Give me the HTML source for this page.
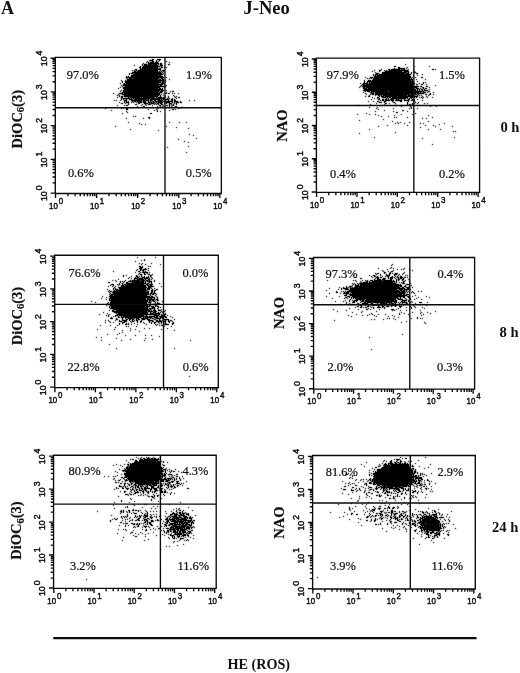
<!DOCTYPE html>
<html lang="en">
<head>
<meta charset="utf-8">
<title>J-Neo</title>
<style>
html,body{margin:0;padding:0;background:#fff}
body{width:520px;height:673px;overflow:hidden}
svg{display:block}
text{fill:#111}
.ax{fill:none;stroke:#0a0a0a;stroke-width:1.35}
.dots{fill:none;stroke:#000;stroke-width:1;shape-rendering:crispEdges}
.tk{font-family:"Liberation Sans",Arial,Helvetica,sans-serif;font-size:9px;stroke:#111;stroke-width:.45px}
.ty{font-size:8.7px}
.q{font-family:"Liberation Serif","Times New Roman",Times,serif;font-size:13.1px;stroke:#111;stroke-width:.22px}
.b{font-family:"Liberation Serif","Times New Roman",Times,serif;font-weight:bold}
.yt{font-family:"Liberation Serif","Times New Roman",Times,serif;font-weight:bold;font-size:14.5px;stroke:#111;stroke-width:.2px}
.sb{font-size:10.5px}
</style>
</head>
<body>
<svg width="520" height="673" viewBox="0 0 520 673">
<defs><filter id="soft" x="0" y="0" width="520" height="673" filterUnits="userSpaceOnUse" color-interpolation-filters="sRGB"><feConvolveMatrix order="3" kernelMatrix=".03 .12 .03 .12 .7 .12 .03 .12 .03" divisor="1" edgeMode="none" preserveAlpha="false"/></filter></defs>
<rect width="520" height="673" fill="#fff"/>
<text class="b" x="1" y="13.8" font-size="18">A</text>
<text class="b" x="243.5" y="14" font-size="18.5">J-Neo</text>

<g>
<path class="dots" filter="url(#soft)" transform="translate(0 .5)" d="M152 59h2M157 59h4M149 60h4M156 60h1M159 60h1M147 61h1M152 61h2M156 61h1M158 61h1M166 61h1M146 62h1M148 62h1M150 62h4M155 62h3M169 62h1M143 63h1M148 63h11M160 63h2M142 64h1M144 64h3M148 64h9M158 64h1M160 64h2M168 64h2M134 65h1M142 65h1M144 65h14M160 65h3M140 66h1M143 66h17M161 66h1M139 67h2M142 67h16M161 67h2M164 67h1M166 67h1M140 68h1M142 68h16M159 68h2M135 69h2M140 69h21M132 70h1M134 70h1M136 70h1M138 70h20M160 70h1M162 70h3M134 71h2M137 71h21M159 71h1M161 71h1M163 71h1M132 72h29M162 72h1M129 73h1M131 73h2M134 73h28M163 73h1M129 74h1M133 74h30M131 75h27M159 75h2M164 75h1M126 76h1M128 76h1M131 76h32M126 77h38M166 77h1M126 78h1M129 78h3M133 78h26M161 78h2M127 79h31M159 79h2M162 79h2M169 79h1M121 80h1M125 80h1M127 80h37M165 80h1M122 81h1M125 81h36M162 81h2M165 81h1M122 82h1M125 82h36M162 82h2M120 83h1M124 83h1M126 83h33M161 83h3M123 84h40M164 84h1M121 85h1M123 85h36M160 85h2M166 85h1M122 86h1M125 86h41M120 87h1M123 87h37M164 87h1M118 88h1M123 88h35M159 88h2M162 88h1M124 89h39M121 90h1M123 90h37M161 90h3M166 90h1M120 91h1M123 91h36M160 91h3M170 91h1M172 91h2M122 92h36M159 92h3M166 92h1M113 93h1M119 93h4M124 93h36M163 93h1M166 93h1M168 93h2M172 93h1M174 93h1M178 93h1M118 94h1M122 94h38M161 94h1M117 95h1M119 95h1M124 95h35M160 95h1M163 95h1M173 95h1M119 96h1M121 96h2M124 96h34M160 96h1M165 96h1M168 96h1M174 96h1M176 96h1M117 97h1M121 97h2M128 97h1M130 97h10M141 97h1M143 97h11M156 97h1M158 97h4M163 97h2M168 97h1M175 97h1M178 97h2M121 98h1M123 98h7M131 98h1M133 98h1M135 98h15M151 98h5M157 98h7M167 98h1M169 98h1M172 98h1M176 98h1M121 99h1M123 99h1M126 99h1M129 99h4M134 99h13M148 99h1M150 99h10M161 99h1M163 99h6M171 99h2M174 99h1M114 100h1M116 100h1M120 100h1M124 100h3M131 100h11M143 100h2M146 100h3M150 100h2M154 100h2M158 100h5M165 100h1M168 100h1M171 100h2M174 100h2M189 100h1M194 100h1M124 101h1M126 101h1M128 101h1M132 101h1M134 101h2M137 101h5M143 101h3M148 101h1M150 101h1M152 101h2M155 101h7M163 101h2M166 101h7M174 101h4M180 101h1M119 102h1M124 102h1M126 102h3M131 102h1M133 102h1M136 102h1M138 102h4M143 102h3M148 102h4M153 102h2M156 102h1M158 102h5M165 102h5M172 102h1M174 102h1M176 102h3M180 102h2M121 103h2M125 103h1M128 103h1M138 103h2M144 103h4M149 103h1M151 103h3M155 103h1M157 103h2M160 103h2M164 103h1M166 103h1M169 103h3M174 103h1M176 103h1M128 104h1M135 104h2M142 104h1M145 104h1M148 104h3M154 104h1M156 104h1M158 104h1M161 104h2M169 104h1M171 104h1M173 104h1M176 104h1M117 105h1M124 105h1M126 105h2M141 105h1M146 105h1M152 105h1M159 105h2M163 105h1M166 105h2M169 105h1M172 105h2M137 106h1M143 106h2M157 106h1M160 106h1M162 106h1M164 106h1M169 106h1M171 106h1M175 106h2M152 107h1M158 107h1M164 107h1M167 107h1M174 107h1M178 107h1M181 107h2M105 108h1M121 108h1M123 108h1M126 108h2M157 108h1M178 108h1M126 109h2M148 109h1M156 109h1M172 109h2M175 109h1M111 110h1M154 110h1M157 110h1M169 110h1M126 111h1M157 111h1M160 111h1M127 112h1M122 113h1M150 113h2M133 116h1M135 116h1M148 117h2M126 118h1M143 118h1M149 118h1M128 122h1M169 122h1M179 122h1M186 122h1M139 123h1M141 124h1M145 124h1M115 126h1M166 126h1M176 127h1M188 128h1M130 129h1M158 130h1M189 134h1M193 135h1M196 138h1M178 139h1M184 141h1M188 142h1M188 146h1M167 147h1M186 152h1"/>
<path class="ax" d="M55.3 57.3H221.35V193.45H55.3ZM165 57.3V193.45M55.3 107.7H221.35M55.5 193.45v4.6M55.3 193.05h-4.6M67.87 193.45v2.8M55.3 182.9h-2.8M75.1 193.45v2.8M55.3 176.97h-2.8M80.24 193.45v2.8M55.3 172.75h-2.8M84.22 193.45v2.8M55.3 169.49h-2.8M87.47 193.45v2.8M55.3 166.82h-2.8M90.22 193.45v2.8M55.3 164.56h-2.8M92.61 193.45v2.8M55.3 162.6h-2.8M94.71 193.45v2.8M55.3 160.88h-2.8M96.59 193.45v4.6M55.3 159.34h-4.6M108.96 193.45v2.8M55.3 149.19h-2.8M116.19 193.45v2.8M55.3 143.25h-2.8M121.32 193.45v2.8M55.3 139.04h-2.8M125.31 193.45v2.8M55.3 135.77h-2.8M128.56 193.45v2.8M55.3 133.1h-2.8M131.31 193.45v2.8M55.3 130.85h-2.8M133.69 193.45v2.8M55.3 128.89h-2.8M135.79 193.45v2.8M55.3 127.17h-2.8M137.68 193.45v4.6M55.3 125.62h-4.6M150.04 193.45v2.8M55.3 115.48h-2.8M157.28 193.45v2.8M55.3 109.54h-2.8M162.41 193.45v2.8M55.3 105.33h-2.8M166.39 193.45v2.8M55.3 102.06h-2.8M169.65 193.45v2.8M55.3 99.39h-2.8M172.4 193.45v2.8M55.3 97.13h-2.8M174.78 193.45v2.8M55.3 95.18h-2.8M176.88 193.45v2.8M55.3 93.46h-2.8M178.76 193.45v4.6M55.3 91.91h-4.6M191.13 193.45v2.8M55.3 81.76h-2.8M198.37 193.45v2.8M55.3 75.83h-2.8M203.5 193.45v2.8M55.3 71.62h-2.8M207.48 193.45v2.8M55.3 68.35h-2.8M210.73 193.45v2.8M55.3 65.68h-2.8M213.49 193.45v2.8M55.3 63.42h-2.8M215.87 193.45v2.8M55.3 61.47h-2.8M217.97 193.45v2.8M55.3 59.74h-2.8M219.85 193.45v4.6M55.3 58.2h-4.6"/>
<text class="tk" transform="translate(49 208.55) scale(.88 1)">10<tspan dx="1" dy="-4.8">0</tspan></text>
<text class="tk ty" transform="translate(46.7 201.05) rotate(-90)">10<tspan dx="1.1" dy="-5.2">0</tspan></text>
<text class="tk" transform="translate(90.09 208.55) scale(.88 1)">10<tspan dx="1" dy="-4.8">1</tspan></text>
<text class="tk ty" transform="translate(46.7 167.34) rotate(-90)">10<tspan dx="1.1" dy="-5.2">1</tspan></text>
<text class="tk" transform="translate(131.18 208.55) scale(.88 1)">10<tspan dx="1" dy="-4.8">2</tspan></text>
<text class="tk ty" transform="translate(46.7 133.62) rotate(-90)">10<tspan dx="1.1" dy="-5.2">2</tspan></text>
<text class="tk" transform="translate(172.26 208.55) scale(.88 1)">10<tspan dx="1" dy="-4.8">3</tspan></text>
<text class="tk ty" transform="translate(46.7 99.91) rotate(-90)">10<tspan dx="1.1" dy="-5.2">3</tspan></text>
<text class="tk" transform="translate(213.35 208.55) scale(.88 1)">10<tspan dx="1" dy="-4.8">4</tspan></text>
<text class="tk ty" transform="translate(46.7 66.2) rotate(-90)">10<tspan dx="1.1" dy="-5.2">4</tspan></text>
<text class="q" transform="translate(66.8 79) scale(.95 1)">97.0%</text>
<text class="q" transform="translate(186 79) scale(.95 1)">1.9%</text>
<text class="q" transform="translate(67.9 177.1) scale(.95 1)">0.6%</text>
<text class="q" transform="translate(185.8 177.1) scale(.95 1)">0.5%</text>
<text class="yt" text-anchor="middle" transform="translate(21.6 119.2) rotate(-90)">DiOC<tspan class="sb" dy="2.6">6</tspan><tspan dy="-2.6">(3)</tspan></text>
</g>
<g>
<path class="dots" filter="url(#soft)" transform="translate(0 .5)" d="M405 64h1M394 66h2M414 66h1M429 66h1M398 67h2M407 67h1M394 68h1M398 68h7M406 68h1M381 69h1M388 69h2M391 69h9M401 69h1M403 69h2M408 69h1M413 69h1M432 69h2M435 69h1M374 70h1M379 70h2M384 70h1M386 70h1M389 70h19M372 71h1M379 71h1M385 71h17M404 71h5M414 71h1M375 72h1M382 72h25M408 72h1M411 72h1M414 72h2M376 73h3M382 73h23M406 73h3M411 73h1M416 73h2M373 74h1M375 74h3M379 74h32M422 74h1M373 75h1M375 75h1M377 75h33M413 75h1M417 75h1M374 76h37M365 77h1M370 77h3M374 77h37M412 77h1M415 77h1M421 77h2M367 78h1M369 78h1M371 78h1M373 78h37M411 78h1M373 79h40M416 79h1M425 79h1M364 80h1M368 80h3M372 80h39M412 80h1M364 81h1M367 81h46M417 81h1M364 82h1M367 82h1M369 82h1M371 82h43M423 82h1M425 82h1M360 83h1M363 83h5M369 83h46M419 83h1M423 83h1M362 84h3M366 84h47M416 84h2M421 84h2M426 84h1M361 85h1M363 85h50M435 85h1M360 86h1M362 86h57M420 86h2M426 86h2M359 87h1M363 87h2M366 87h51M422 87h2M429 87h1M363 88h4M368 88h46M416 88h3M420 88h1M423 88h1M425 88h2M364 89h52M417 89h1M419 89h1M421 89h2M424 89h1M429 89h1M363 90h53M417 90h1M419 90h1M422 90h1M424 90h4M365 91h1M367 91h3M371 91h17M389 91h25M415 91h9M428 91h2M363 92h1M370 92h2M373 92h1M375 92h44M420 92h1M423 92h3M427 92h1M433 92h1M365 93h1M371 93h3M375 93h41M417 93h7M430 93h1M366 94h1M370 94h1M372 94h2M375 94h35M411 94h3M415 94h2M418 94h1M425 94h2M429 94h2M433 94h1M369 95h1M375 95h1M378 95h2M381 95h1M383 95h24M408 95h5M414 95h1M417 95h1M419 95h1M421 95h1M428 95h1M365 96h1M368 96h2M379 96h1M381 96h3M385 96h33M422 96h1M426 96h1M372 97h1M377 97h2M382 97h4M387 97h1M389 97h2M392 97h16M410 97h3M414 97h1M416 97h1M419 97h1M421 97h1M423 97h1M427 97h1M432 97h1M374 98h1M377 98h1M379 98h1M386 98h1M388 98h1M391 98h15M407 98h1M409 98h1M411 98h1M422 98h1M371 99h1M378 99h2M382 99h2M385 99h2M388 99h1M390 99h4M396 99h1M398 99h1M401 99h1M404 99h1M408 99h2M412 99h1M414 99h1M417 99h1M380 100h1M382 100h2M385 100h5M391 100h3M395 100h7M404 100h5M411 100h2M414 100h1M422 100h1M368 101h1M373 101h1M377 101h2M384 101h2M392 101h1M400 101h2M408 101h1M414 101h1M379 102h3M384 102h1M393 102h2M407 102h1M415 102h1M418 102h1M376 103h1M385 103h2M389 103h1M395 103h1M407 103h1M412 103h1M414 103h1M417 103h1M424 103h1M427 103h1M370 104h1M384 104h1M407 104h1M409 104h2M412 104h1M358 105h1M381 105h1M395 105h2M401 105h1M403 105h1M417 105h1M401 106h1M410 106h1M430 106h1M436 106h1M369 107h1M377 107h1M411 107h1M376 108h1M393 108h1M409 108h1M411 108h1M417 108h1M378 109h1M384 110h1M402 110h2M375 111h1M393 111h1M407 111h1M413 111h1M396 112h2M366 113h1M415 113h1M357 114h1M369 114h1M375 114h1M401 114h1M412 114h1M378 115h1M394 115h1M428 115h1M381 116h1M388 116h1M394 117h1M396 117h1M407 117h1M432 117h1M422 118h1M426 118h1M383 119h1M359 120h1M392 121h1M428 121h1M397 122h1M400 122h1M409 122h1M395 123h1M398 123h1M404 123h1M420 123h1M423 123h1M444 123h1M439 124h1M387 125h1M407 125h1M425 125h1M433 125h1M378 126h1M435 126h1M452 126h1M420 127h1M369 129h1M428 129h1M440 129h1M453 131h1M455 131h1M395 132h1M359 133h1M374 137h1M454 137h1M422 138h1M432 144h1"/>
<path class="ax" d="M316.4 58.1H479.6V192.4H316.4ZM413.85 58.1V192.4M316.4 105.5H479.6M316.6 192.4v4.6M316.4 192h-4.6M328.75 192.4v2.8M316.4 181.99h-2.8M335.86 192.4v2.8M316.4 176.14h-2.8M340.91 192.4v2.8M316.4 171.98h-2.8M344.82 192.4v2.8M316.4 168.76h-2.8M348.02 192.4v2.8M316.4 166.13h-2.8M350.72 192.4v2.8M316.4 163.9h-2.8M353.06 192.4v2.8M316.4 161.97h-2.8M355.13 192.4v2.8M316.4 160.27h-2.8M356.97 192.4v4.6M316.4 158.75h-4.6M369.13 192.4v2.8M316.4 148.74h-2.8M376.24 192.4v2.8M316.4 142.89h-2.8M381.28 192.4v2.8M316.4 138.73h-2.8M385.2 192.4v2.8M316.4 135.51h-2.8M388.39 192.4v2.8M316.4 132.88h-2.8M391.1 192.4v2.8M316.4 130.65h-2.8M393.44 192.4v2.8M316.4 128.72h-2.8M395.5 192.4v2.8M316.4 127.02h-2.8M397.35 192.4v4.6M316.4 125.5h-4.6M409.5 192.4v2.8M316.4 115.49h-2.8M416.61 192.4v2.8M316.4 109.64h-2.8M421.66 192.4v2.8M316.4 105.48h-2.8M425.57 192.4v2.8M316.4 102.26h-2.8M428.77 192.4v2.8M316.4 99.63h-2.8M431.47 192.4v2.8M316.4 97.4h-2.8M433.81 192.4v2.8M316.4 95.47h-2.8M435.88 192.4v2.8M316.4 93.77h-2.8M437.73 192.4v4.6M316.4 92.25h-4.6M449.88 192.4v2.8M316.4 82.24h-2.8M456.99 192.4v2.8M316.4 76.39h-2.8M462.03 192.4v2.8M316.4 72.23h-2.8M465.95 192.4v2.8M316.4 69.01h-2.8M469.14 192.4v2.8M316.4 66.38h-2.8M471.85 192.4v2.8M316.4 64.15h-2.8M474.19 192.4v2.8M316.4 62.22h-2.8M476.25 192.4v2.8M316.4 60.52h-2.8M478.1 192.4v4.6M316.4 59h-4.6"/>
<text class="tk" transform="translate(310.1 207.5) scale(.88 1)">10<tspan dx="1" dy="-4.8">0</tspan></text>
<text class="tk ty" transform="translate(307.8 200) rotate(-90)">10<tspan dx="1.1" dy="-5.2">0</tspan></text>
<text class="tk" transform="translate(350.47 207.5) scale(.88 1)">10<tspan dx="1" dy="-4.8">1</tspan></text>
<text class="tk ty" transform="translate(307.8 166.75) rotate(-90)">10<tspan dx="1.1" dy="-5.2">1</tspan></text>
<text class="tk" transform="translate(390.85 207.5) scale(.88 1)">10<tspan dx="1" dy="-4.8">2</tspan></text>
<text class="tk ty" transform="translate(307.8 133.5) rotate(-90)">10<tspan dx="1.1" dy="-5.2">2</tspan></text>
<text class="tk" transform="translate(431.23 207.5) scale(.88 1)">10<tspan dx="1" dy="-4.8">3</tspan></text>
<text class="tk ty" transform="translate(307.8 100.25) rotate(-90)">10<tspan dx="1.1" dy="-5.2">3</tspan></text>
<text class="tk" transform="translate(471.6 207.5) scale(.88 1)">10<tspan dx="1" dy="-4.8">4</tspan></text>
<text class="tk ty" transform="translate(307.8 67) rotate(-90)">10<tspan dx="1.1" dy="-5.2">4</tspan></text>
<text class="q" transform="translate(326.8 79.4) scale(.95 1)">97.9%</text>
<text class="q" transform="translate(439 79.4) scale(.95 1)">1.5%</text>
<text class="q" transform="translate(330 178) scale(.95 1)">0.4%</text>
<text class="q" transform="translate(439 178) scale(.95 1)">0.2%</text>
<text class="yt" text-anchor="middle" transform="translate(286.6 125.6) rotate(-90)">NAO</text>
</g>
<g>
<path class="dots" filter="url(#soft)" transform="translate(0 .5)" d="M137 257h1M155 257h1M144 259h1M141 260h1M144 260h1M135 261h1M139 263h1M142 263h1M151 263h1M141 264h1M145 264h1M160 264h1M139 266h2M142 266h1M148 266h1M150 266h1M140 267h3M139 268h3M145 268h1M148 268h1M137 269h1M140 269h2M143 269h4M136 270h1M140 270h1M142 270h2M148 270h1M113 271h1M138 271h2M143 271h1M145 271h1M135 272h1M140 272h1M142 272h6M149 272h1M139 273h1M144 273h1M147 273h1M138 274h1M140 274h2M144 274h2M148 274h2M152 274h1M123 275h1M126 275h1M136 275h1M141 275h1M150 275h2M123 276h1M131 276h1M136 276h2M139 276h1M141 276h1M144 276h1M148 276h1M150 276h1M129 277h1M135 277h1M137 277h2M142 277h3M146 277h3M151 277h1M128 278h1M131 278h1M134 278h4M139 278h4M144 278h4M149 278h1M152 278h1M118 279h1M134 279h1M137 279h7M145 279h1M148 279h2M151 279h1M112 280h1M115 280h1M125 280h1M130 280h1M132 280h8M141 280h4M146 280h2M149 280h1M154 280h1M116 281h1M120 281h1M122 281h1M124 281h1M128 281h16M145 281h1M147 281h5M154 281h1M108 282h2M120 282h1M123 282h1M126 282h2M132 282h12M145 282h1M149 282h1M151 282h1M119 283h1M122 283h1M126 283h20M147 283h2M151 283h1M159 283h1M111 284h3M117 284h1M119 284h1M122 284h1M124 284h2M127 284h17M146 284h2M149 284h4M110 285h1M113 285h1M118 285h1M121 285h3M125 285h21M147 285h2M150 285h2M108 286h1M112 286h1M115 286h1M121 286h25M148 286h6M161 286h1M114 287h1M118 287h29M148 287h3M113 288h1M115 288h1M119 288h27M147 288h3M151 288h1M154 288h1M107 289h1M113 289h1M115 289h3M119 289h27M147 289h3M152 289h1M156 289h2M109 290h1M114 290h1M116 290h31M151 290h2M154 290h2M108 291h1M110 291h2M113 291h33M147 291h2M151 291h2M154 291h1M109 292h1M112 292h37M151 292h2M154 292h1M110 293h1M113 293h36M150 293h2M153 293h3M109 294h1M111 294h38M150 294h1M152 294h2M156 294h1M110 295h3M114 295h33M150 295h1M155 295h1M102 296h1M109 296h41M151 296h2M156 296h1M106 297h1M110 297h45M157 297h1M101 298h1M109 298h37M147 298h2M150 298h2M154 298h1M157 298h1M106 299h1M109 299h1M111 299h35M147 299h8M156 299h2M109 300h39M149 300h2M152 300h2M155 300h1M157 300h2M91 301h1M111 301h37M149 301h1M151 301h1M153 301h2M162 301h1M95 302h1M108 302h1M110 302h37M148 302h3M155 302h1M157 302h1M107 303h1M110 303h37M150 303h1M155 303h1M157 303h3M107 304h40M149 304h1M152 304h3M157 304h2M106 305h1M110 305h38M149 305h2M155 305h2M109 306h1M111 306h34M146 306h4M151 306h3M155 306h1M157 306h2M109 307h1M111 307h37M152 307h3M158 307h1M160 307h1M110 308h38M149 308h6M157 308h1M113 309h36M150 309h1M154 309h1M158 309h1M161 309h1M109 310h1M112 310h2M116 310h34M151 310h1M153 310h3M158 310h3M165 310h1M112 311h35M148 311h5M154 311h3M161 311h1M163 311h2M103 312h1M114 312h34M150 312h1M153 312h3M158 312h1M160 312h1M162 312h1M107 313h1M116 313h1M118 313h30M150 313h4M155 313h5M165 313h1M99 314h1M109 314h1M117 314h40M158 314h2M161 314h1M163 314h3M106 315h1M108 315h1M115 315h3M119 315h25M146 315h1M154 315h5M161 315h2M164 315h1M167 315h1M108 316h1M113 316h1M115 316h1M118 316h1M121 316h1M123 316h25M149 316h6M156 316h2M159 316h7M170 316h1M111 317h1M118 317h2M121 317h3M125 317h16M143 317h1M145 317h7M154 317h4M160 317h3M165 317h2M172 317h1M110 318h3M116 318h1M122 318h1M125 318h1M128 318h5M134 318h1M136 318h3M141 318h7M150 318h1M152 318h2M156 318h5M162 318h2M116 319h2M122 319h1M126 319h2M129 319h2M132 319h2M136 319h1M138 319h2M142 319h3M147 319h3M154 319h2M159 319h1M163 319h6M174 319h1M105 320h1M108 320h1M115 320h1M119 320h1M122 320h5M129 320h1M132 320h1M134 320h1M136 320h2M141 320h1M148 320h5M156 320h2M159 320h2M162 320h1M165 320h1M168 320h1M170 320h2M109 321h1M119 321h3M124 321h3M130 321h1M132 321h2M137 321h1M140 321h2M149 321h1M152 321h2M156 321h6M163 321h3M168 321h2M172 321h1M105 322h1M110 322h1M113 322h1M122 322h3M131 322h1M137 322h1M140 322h1M143 322h1M149 322h1M151 322h1M154 322h2M158 322h1M161 322h1M163 322h1M165 322h1M169 322h1M173 322h1M119 323h1M122 323h1M126 323h1M128 323h1M134 323h1M144 323h1M151 323h1M154 323h1M159 323h1M161 323h1M165 323h1M172 323h2M119 324h1M125 324h2M128 324h1M131 324h1M137 324h1M146 324h1M155 324h1M157 324h1M164 324h5M172 324h1M100 325h1M110 325h1M117 325h1M156 325h1M159 325h1M161 325h2M126 326h1M128 326h1M136 326h1M164 326h1M171 326h1M115 327h1M130 328h1M144 328h1M149 328h1M167 328h1M97 329h1M114 329h1M135 329h1M161 329h1M122 330h1M130 330h1M174 330h1M139 331h1M122 332h1M119 333h1M107 334h1M117 334h1M125 335h1M135 335h1M145 335h1M151 335h1M159 336h1M96 337h1M101 337h1M116 338h1M145 338h1M130 339h1M152 339h1M101 340h1M121 340h1M144 340h1M190 340h1M109 344h1M116 348h1M174 348h1M189 376h1"/>
<path class="ax" d="M54.7 255.25H218.3V387.55H54.7ZM163.5 255.25V387.55M54.7 304.3H218.3M54.9 387.55v4.6M54.7 387.15h-4.6M67.08 387.55v2.8M54.7 377.29h-2.8M74.21 387.55v2.8M54.7 371.52h-2.8M79.27 387.55v2.8M54.7 367.43h-2.8M83.19 387.55v2.8M54.7 364.26h-2.8M86.4 387.55v2.8M54.7 361.67h-2.8M89.11 387.55v2.8M54.7 359.47h-2.8M91.45 387.55v2.8M54.7 357.57h-2.8M93.52 387.55v2.8M54.7 355.9h-2.8M95.38 387.55v4.6M54.7 354.4h-4.6M107.56 387.55v2.8M54.7 344.54h-2.8M114.69 387.55v2.8M54.7 338.77h-2.8M119.74 387.55v2.8M54.7 334.68h-2.8M123.67 387.55v2.8M54.7 331.51h-2.8M126.87 387.55v2.8M54.7 328.92h-2.8M129.58 387.55v2.8M54.7 326.72h-2.8M131.93 387.55v2.8M54.7 324.82h-2.8M134 387.55v2.8M54.7 323.15h-2.8M135.85 387.55v4.6M54.7 321.65h-4.6M148.03 387.55v2.8M54.7 311.79h-2.8M155.16 387.55v2.8M54.7 306.02h-2.8M160.22 387.55v2.8M54.7 301.93h-2.8M164.14 387.55v2.8M54.7 298.76h-2.8M167.35 387.55v2.8M54.7 296.17h-2.8M170.06 387.55v2.8M54.7 293.97h-2.8M172.4 387.55v2.8M54.7 292.07h-2.8M174.47 387.55v2.8M54.7 290.4h-2.8M176.33 387.55v4.6M54.7 288.9h-4.6M188.51 387.55v2.8M54.7 279.04h-2.8M195.64 387.55v2.8M54.7 273.27h-2.8M200.69 387.55v2.8M54.7 269.18h-2.8M204.62 387.55v2.8M54.7 266.01h-2.8M207.82 387.55v2.8M54.7 263.42h-2.8M210.53 387.55v2.8M54.7 261.22h-2.8M212.88 387.55v2.8M54.7 259.32h-2.8M214.95 387.55v2.8M54.7 257.65h-2.8M216.8 387.55v4.6M54.7 256.15h-4.6"/>
<text class="tk" transform="translate(48.4 402.65) scale(.88 1)">10<tspan dx="1" dy="-4.8">0</tspan></text>
<text class="tk ty" transform="translate(46.1 395.15) rotate(-90)">10<tspan dx="1.1" dy="-5.2">0</tspan></text>
<text class="tk" transform="translate(88.88 402.65) scale(.88 1)">10<tspan dx="1" dy="-4.8">1</tspan></text>
<text class="tk ty" transform="translate(46.1 362.4) rotate(-90)">10<tspan dx="1.1" dy="-5.2">1</tspan></text>
<text class="tk" transform="translate(129.35 402.65) scale(.88 1)">10<tspan dx="1" dy="-4.8">2</tspan></text>
<text class="tk ty" transform="translate(46.1 329.65) rotate(-90)">10<tspan dx="1.1" dy="-5.2">2</tspan></text>
<text class="tk" transform="translate(169.83 402.65) scale(.88 1)">10<tspan dx="1" dy="-4.8">3</tspan></text>
<text class="tk ty" transform="translate(46.1 296.9) rotate(-90)">10<tspan dx="1.1" dy="-5.2">3</tspan></text>
<text class="tk" transform="translate(210.3 402.65) scale(.88 1)">10<tspan dx="1" dy="-4.8">4</tspan></text>
<text class="tk ty" transform="translate(46.1 264.15) rotate(-90)">10<tspan dx="1.1" dy="-5.2">4</tspan></text>
<text class="q" transform="translate(68.5 277) scale(.95 1)">76.6%</text>
<text class="q" transform="translate(182.5 277) scale(.95 1)">0.0%</text>
<text class="q" transform="translate(67.5 370.5) scale(.95 1)">22.8%</text>
<text class="q" transform="translate(182.7 370.5) scale(.95 1)">0.6%</text>
<text class="yt" text-anchor="middle" transform="translate(21.6 316) rotate(-90)">DiOC<tspan class="sb" dy="2.6">6</tspan><tspan dy="-2.6">(3)</tspan></text>
</g>
<g>
<path class="dots" filter="url(#soft)" transform="translate(0 .5)" d="M392 264h1M391 265h1M391 267h1M378 268h1M390 268h1M393 268h1M404 268h1M387 269h1M397 269h1M401 269h1M403 269h1M409 269h1M382 270h1M393 270h1M412 270h1M383 271h1M388 271h1M391 271h2M384 272h2M390 272h1M404 272h1M375 273h1M377 273h2M384 273h1M389 273h2M392 273h1M395 273h3M403 273h1M376 274h1M380 274h1M386 274h1M389 274h1M394 274h3M399 274h1M402 274h1M353 275h1M369 275h1M373 275h2M380 275h1M386 275h4M394 275h1M398 275h1M405 275h1M407 275h1M346 276h1M371 276h1M374 276h2M377 276h1M382 276h1M385 276h1M387 276h2M392 276h1M395 276h1M397 276h1M400 276h2M355 277h1M372 277h1M376 277h3M380 277h2M388 277h1M390 277h3M394 277h1M397 277h2M400 277h3M404 277h2M407 277h1M360 278h2M375 278h1M377 278h2M383 278h3M388 278h1M390 278h3M395 278h1M398 278h1M400 278h2M403 278h1M374 279h1M377 279h4M382 279h3M390 279h2M396 279h1M398 279h2M402 279h2M408 279h1M327 280h1M353 280h1M355 280h1M362 280h1M365 280h1M367 280h1M370 280h3M374 280h8M383 280h9M393 280h1M396 280h1M398 280h1M402 280h1M405 280h1M356 281h1M360 281h1M366 281h2M369 281h1M372 281h23M396 281h1M403 281h2M409 281h1M361 282h1M363 282h5M369 282h24M394 282h1M396 282h1M399 282h1M401 282h1M403 282h1M352 283h1M354 283h1M357 283h1M359 283h37M402 283h3M410 283h1M353 284h1M355 284h1M358 284h1M360 284h39M400 284h1M406 284h3M352 285h1M355 285h4M360 285h42M405 285h1M409 285h1M411 285h1M346 286h1M349 286h3M355 286h44M400 286h2M404 286h2M409 286h1M339 287h1M343 287h1M346 287h1M348 287h1M350 287h1M352 287h1M354 287h46M402 287h2M406 287h3M412 287h1M329 288h1M341 288h1M343 288h5M350 288h55M407 288h3M338 289h1M341 289h1M345 289h4M350 289h47M399 289h4M404 289h5M410 289h1M326 290h1M349 290h50M400 290h2M403 290h2M406 290h1M336 291h1M341 291h1M343 291h1M345 291h1M347 291h53M401 291h4M406 291h1M408 291h1M412 291h1M418 291h1M421 291h1M336 292h2M344 292h1M346 292h3M351 292h55M407 292h1M411 292h1M413 292h1M329 293h1M340 293h1M343 293h6M350 293h1M352 293h46M399 293h6M414 293h1M346 294h1M349 294h53M403 294h2M406 294h3M344 295h3M350 295h57M409 295h1M415 295h1M326 296h1M339 296h1M347 296h3M352 296h53M407 296h2M412 296h1M426 296h1M345 297h2M349 297h1M351 297h1M353 297h45M400 297h1M403 297h2M408 297h2M418 297h1M429 297h1M332 298h1M344 298h1M347 298h1M351 298h1M353 298h1M355 298h41M397 298h2M400 298h1M405 298h1M410 298h1M416 298h1M350 299h1M356 299h9M366 299h30M398 299h5M406 299h1M409 299h2M414 299h1M421 299h1M345 300h1M349 300h1M352 300h1M354 300h4M360 300h1M362 300h2M365 300h29M395 300h2M402 300h5M408 300h1M335 301h1M343 301h1M349 301h1M353 301h2M356 301h1M361 301h3M365 301h32M401 301h2M404 301h1M408 301h1M411 301h1M346 302h1M352 302h3M360 302h1M364 302h2M367 302h5M373 302h12M386 302h6M394 302h3M398 302h1M400 302h1M402 302h5M410 302h1M412 302h1M419 302h3M427 302h1M346 303h1M349 303h1M357 303h2M362 303h6M371 303h2M377 303h1M380 303h7M389 303h1M391 303h3M395 303h1M399 303h1M402 303h1M406 303h2M409 303h1M415 303h1M340 304h1M350 304h3M359 304h1M361 304h3M365 304h1M367 304h2M370 304h3M375 304h2M378 304h1M380 304h1M383 304h3M387 304h6M394 304h2M397 304h1M400 304h2M405 304h1M410 304h1M415 304h1M420 304h1M422 304h1M360 305h2M365 305h1M368 305h1M372 305h3M376 305h1M378 305h2M381 305h2M384 305h1M387 305h1M389 305h1M391 305h6M399 305h1M403 305h1M409 305h1M413 305h1M426 305h1M357 306h2M361 306h1M367 306h2M370 306h1M378 306h1M382 306h2M386 306h3M391 306h1M395 306h1M399 306h3M410 306h1M414 306h1M355 307h1M360 307h2M363 307h1M365 307h2M371 307h1M373 307h1M377 307h4M382 307h1M384 307h1M400 307h1M406 307h1M411 307h1M415 307h1M422 307h1M349 308h1M368 308h1M373 308h1M384 308h1M398 308h1M411 308h1M424 308h1M333 309h1M358 309h1M366 309h2M370 309h1M379 309h1M391 309h3M396 309h1M346 310h1M392 310h1M394 310h1M400 310h1M406 310h1M420 310h1M337 311h1M362 311h1M376 311h1M435 311h1M352 312h1M361 312h1M401 312h1M412 312h1M421 312h1M427 312h1M371 313h1M399 313h1M404 313h1M420 313h1M430 313h1M356 314h1M369 314h1M372 314h1M378 314h1M385 314h1M399 314h1M408 314h1M423 314h1M348 315h1M362 315h1M367 315h1M374 315h1M392 315h1M421 315h1M351 316h1M376 316h1M388 316h1M394 316h1M398 317h1M417 317h1M387 318h1M389 318h1M393 318h1M411 318h1M417 318h1M420 318h1M422 318h1M371 319h1M374 319h1M383 319h1M395 319h1M334 320h1M406 321h1M401 322h1M424 322h1M425 323h1M402 334h1M369 337h1M371 349h1"/>
<path class="ax" d="M313.55 257.5H474.6V389.1H313.55ZM409.8 257.5V389.1M313.55 304.7H474.6M313.75 389.1v4.6M313.55 388.7h-4.6M325.74 389.1v2.8M313.55 378.89h-2.8M332.76 389.1v2.8M313.55 373.16h-2.8M337.73 389.1v2.8M313.55 369.09h-2.8M341.6 389.1v2.8M313.55 365.93h-2.8M344.75 389.1v2.8M313.55 363.35h-2.8M347.42 389.1v2.8M313.55 361.17h-2.8M349.73 389.1v2.8M313.55 359.28h-2.8M351.76 389.1v2.8M313.55 357.62h-2.8M353.59 389.1v4.6M313.55 356.12h-4.6M365.58 389.1v2.8M313.55 346.32h-2.8M372.59 389.1v2.8M313.55 340.58h-2.8M377.57 389.1v2.8M313.55 336.51h-2.8M381.43 389.1v2.8M313.55 333.36h-2.8M384.59 389.1v2.8M313.55 330.78h-2.8M387.25 389.1v2.8M313.55 328.6h-2.8M389.56 389.1v2.8M313.55 326.71h-2.8M391.6 389.1v2.8M313.55 325.04h-2.8M393.43 389.1v4.6M313.55 323.55h-4.6M405.42 389.1v2.8M313.55 313.74h-2.8M412.43 389.1v2.8M313.55 308.01h-2.8M417.41 389.1v2.8M313.55 303.94h-2.8M421.27 389.1v2.8M313.55 300.78h-2.8M424.42 389.1v2.8M313.55 298.2h-2.8M427.09 389.1v2.8M313.55 296.02h-2.8M429.4 389.1v2.8M313.55 294.13h-2.8M431.44 389.1v2.8M313.55 292.47h-2.8M433.26 389.1v4.6M313.55 290.98h-4.6M445.25 389.1v2.8M313.55 281.17h-2.8M452.27 389.1v2.8M313.55 275.43h-2.8M457.25 389.1v2.8M313.55 271.36h-2.8M461.11 389.1v2.8M313.55 268.21h-2.8M464.26 389.1v2.8M313.55 265.63h-2.8M466.93 389.1v2.8M313.55 263.45h-2.8M469.24 389.1v2.8M313.55 261.56h-2.8M471.28 389.1v2.8M313.55 259.89h-2.8M473.1 389.1v4.6M313.55 258.4h-4.6"/>
<text class="tk" transform="translate(307.25 404.2) scale(.88 1)">10<tspan dx="1" dy="-4.8">0</tspan></text>
<text class="tk ty" transform="translate(304.95 396.7) rotate(-90)">10<tspan dx="1.1" dy="-5.2">0</tspan></text>
<text class="tk" transform="translate(347.09 404.2) scale(.88 1)">10<tspan dx="1" dy="-4.8">1</tspan></text>
<text class="tk ty" transform="translate(304.95 364.12) rotate(-90)">10<tspan dx="1.1" dy="-5.2">1</tspan></text>
<text class="tk" transform="translate(386.93 404.2) scale(.88 1)">10<tspan dx="1" dy="-4.8">2</tspan></text>
<text class="tk ty" transform="translate(304.95 331.55) rotate(-90)">10<tspan dx="1.1" dy="-5.2">2</tspan></text>
<text class="tk" transform="translate(426.76 404.2) scale(.88 1)">10<tspan dx="1" dy="-4.8">3</tspan></text>
<text class="tk ty" transform="translate(304.95 298.98) rotate(-90)">10<tspan dx="1.1" dy="-5.2">3</tspan></text>
<text class="tk" transform="translate(466.6 404.2) scale(.88 1)">10<tspan dx="1" dy="-4.8">4</tspan></text>
<text class="tk ty" transform="translate(304.95 266.4) rotate(-90)">10<tspan dx="1.1" dy="-5.2">4</tspan></text>
<text class="q" transform="translate(325.5 278) scale(.95 1)">97.3%</text>
<text class="q" transform="translate(437.5 278) scale(.95 1)">0.4%</text>
<text class="q" transform="translate(327.5 371.2) scale(.95 1)">2.0%</text>
<text class="q" transform="translate(437 371.2) scale(.95 1)">0.3%</text>
<text class="yt" text-anchor="middle" transform="translate(283.6 313) rotate(-90)">NAO</text>
</g>
<g>
<path class="dots" filter="url(#soft)" transform="translate(0 .5)" d="M136 457h1M141 457h1M146 457h1M148 457h1M153 457h1M160 457h1M138 458h1M140 458h1M143 458h2M147 458h3M151 458h2M154 458h2M158 458h1M130 459h1M132 459h2M140 459h3M144 459h15M160 459h1M126 460h1M135 460h2M139 460h19M135 461h3M139 461h17M157 461h3M161 461h1M163 461h1M128 462h1M134 462h26M163 462h1M167 462h1M130 463h1M132 463h29M116 464h1M124 464h1M127 464h2M130 464h30M162 464h1M113 465h1M120 465h1M128 465h1M130 465h30M163 465h2M122 466h1M127 466h1M129 466h32M126 467h36M163 467h1M124 468h1M126 468h37M166 468h1M119 469h1M125 469h1M127 469h35M163 469h3M169 469h1M175 469h1M122 470h41M165 470h1M167 470h1M171 470h1M115 471h1M123 471h1M125 471h39M165 471h1M169 471h1M171 471h1M173 471h2M178 471h1M117 472h1M126 472h36M165 472h1M170 472h1M181 472h1M124 473h39M164 473h1M166 473h1M121 474h1M124 474h39M164 474h2M168 474h4M176 474h2M117 475h1M125 475h36M162 475h4M172 475h1M174 475h1M104 476h1M108 476h1M113 476h1M115 476h1M125 476h38M164 476h1M169 476h1M171 476h1M176 476h2M182 476h1M121 477h2M124 477h3M128 477h33M162 477h1M165 477h1M172 477h2M179 477h1M114 478h1M123 478h1M127 478h35M164 478h2M167 478h5M174 478h1M176 478h1M179 478h1M183 478h1M113 479h1M120 479h1M124 479h1M126 479h1M128 479h39M168 479h1M170 479h1M172 479h1M174 479h1M176 479h1M180 479h1M115 480h1M118 480h2M125 480h3M129 480h30M160 480h4M166 480h4M174 480h1M180 480h1M122 481h1M125 481h1M129 481h4M134 481h20M155 481h4M160 481h4M165 481h3M171 481h3M176 481h3M186 481h1M115 482h2M118 482h1M130 482h1M133 482h1M135 482h22M158 482h1M168 482h3M172 482h1M177 482h1M120 483h2M124 483h2M127 483h1M131 483h2M135 483h24M161 483h1M163 483h1M165 483h1M167 483h1M169 483h1M176 483h4M181 483h1M183 483h1M124 484h1M128 484h2M131 484h1M134 484h2M138 484h7M146 484h5M152 484h3M156 484h1M160 484h2M165 484h2M168 484h1M170 484h1M173 484h1M175 484h1M180 484h1M119 485h1M124 485h1M129 485h1M133 485h1M135 485h2M138 485h1M140 485h1M142 485h1M145 485h1M147 485h1M149 485h3M153 485h4M158 485h1M161 485h2M164 485h1M167 485h2M171 485h1M173 485h1M177 485h2M182 485h1M119 486h3M123 486h1M125 486h1M127 486h1M131 486h2M135 486h1M137 486h2M140 486h2M143 486h1M146 486h2M151 486h3M158 486h1M160 486h2M168 486h1M170 486h3M174 486h1M177 486h1M116 487h1M122 487h1M125 487h1M130 487h1M133 487h1M135 487h1M137 487h2M141 487h1M144 487h2M147 487h1M151 487h3M157 487h2M166 487h1M168 487h1M171 487h1M174 487h2M116 488h1M118 488h1M122 488h2M126 488h3M132 488h1M135 488h1M139 488h1M141 488h2M144 488h6M151 488h1M153 488h4M159 488h1M161 488h2M167 488h1M173 488h1M187 488h2M114 489h1M127 489h1M130 489h1M132 489h2M136 489h2M139 489h1M142 489h1M144 489h2M150 489h2M154 489h3M161 489h1M164 489h1M169 489h1M171 489h1M131 490h1M134 490h1M136 490h1M139 490h3M143 490h1M145 490h2M150 490h1M155 490h3M159 490h1M161 490h1M165 490h1M120 491h1M124 491h2M130 491h1M134 491h1M137 491h1M142 491h2M146 491h1M148 491h1M150 491h1M152 491h1M154 491h2M161 491h2M164 491h2M124 492h1M131 492h1M135 492h4M140 492h1M143 492h1M147 492h2M152 492h1M154 492h1M161 492h2M164 492h2M167 492h1M171 492h1M129 493h1M134 493h2M143 493h1M148 493h1M156 493h1M170 493h1M174 493h1M125 494h3M130 494h2M133 494h1M141 494h1M145 494h1M153 494h1M160 494h1M163 494h1M170 494h1M128 495h1M138 495h1M140 495h1M143 495h1M147 495h1M154 495h1M157 495h2M164 495h1M118 496h1M148 496h2M151 496h2M154 496h1M157 496h1M152 497h2M130 498h1M154 498h1M161 498h1M131 499h1M151 499h1M121 500h1M151 500h1M121 501h1M134 501h1M158 501h1M114 502h1M129 502h1M180 502h1M133 504h1M144 504h1M146 504h1M169 504h1M113 505h1M134 505h1M127 506h1M153 506h1M157 506h1M125 507h1M127 507h1M142 507h1M188 507h1M114 508h1M151 508h1M155 508h1M176 508h1M179 508h1M133 509h1M173 509h1M178 509h1M121 510h1M123 510h1M128 510h2M132 510h2M135 510h2M138 510h1M140 510h1M145 510h1M176 510h1M179 510h2M183 510h1M192 510h1M97 511h1M120 511h2M123 511h1M126 511h1M129 511h1M138 511h1M146 511h1M150 511h1M153 511h1M156 511h1M165 511h1M171 511h1M176 511h1M182 511h1M121 512h1M123 512h1M127 512h1M129 512h1M133 512h1M141 512h1M147 512h1M173 512h1M177 512h1M179 512h2M182 512h1M185 512h1M120 513h1M131 513h1M134 513h3M142 513h1M145 513h1M147 513h1M166 513h1M172 513h3M176 513h1M179 513h2M182 513h3M186 513h1M188 513h1M127 514h1M144 514h1M147 514h1M150 514h1M153 514h1M156 514h1M170 514h3M174 514h4M180 514h2M183 514h1M186 514h3M111 515h1M127 515h1M135 515h1M139 515h1M141 515h1M144 515h4M151 515h1M160 515h1M170 515h1M174 515h3M178 515h7M188 515h1M195 515h1M121 516h1M123 516h1M125 516h1M127 516h1M135 516h1M137 516h1M139 516h2M143 516h1M145 516h3M150 516h1M154 516h1M156 516h1M159 516h1M165 516h1M168 516h2M171 516h6M179 516h1M183 516h4M190 516h1M121 517h1M124 517h1M126 517h1M130 517h1M134 517h1M136 517h1M140 517h1M144 517h2M150 517h3M156 517h1M167 517h1M170 517h1M173 517h9M184 517h4M189 517h2M192 517h1M114 518h1M117 518h1M122 518h1M129 518h1M138 518h2M143 518h1M147 518h2M151 518h1M166 518h2M169 518h1M172 518h7M181 518h5M187 518h1M189 518h3M112 519h1M115 519h2M125 519h1M127 519h1M132 519h1M137 519h2M144 519h3M149 519h1M157 519h1M161 519h1M165 519h3M169 519h6M176 519h11M191 519h1M110 520h1M122 520h1M130 520h1M132 520h1M135 520h2M138 520h2M142 520h1M144 520h1M146 520h2M151 520h2M155 520h1M157 520h2M160 520h1M167 520h2M170 520h1M172 520h4M177 520h2M180 520h2M183 520h9M193 520h2M110 521h1M125 521h1M129 521h1M145 521h1M147 521h1M151 521h3M163 521h1M166 521h3M171 521h13M185 521h1M188 521h3M192 521h1M120 522h2M144 522h2M147 522h1M149 522h2M165 522h1M167 522h1M169 522h1M174 522h4M179 522h4M184 522h6M191 522h3M123 523h1M125 523h3M131 523h2M134 523h1M137 523h1M139 523h1M141 523h1M143 523h1M147 523h1M149 523h2M162 523h1M166 523h2M170 523h6M177 523h1M179 523h1M181 523h4M186 523h2M191 523h1M193 523h1M133 524h2M136 524h2M139 524h1M145 524h1M147 524h1M150 524h2M164 524h2M169 524h4M174 524h7M182 524h2M185 524h5M191 524h1M119 525h1M125 525h1M128 525h1M138 525h1M143 525h1M151 525h2M165 525h2M168 525h2M172 525h5M179 525h1M181 525h6M189 525h3M125 526h1M134 526h1M137 526h2M144 526h3M148 526h1M157 526h1M161 526h1M164 526h1M166 526h1M171 526h1M173 526h13M187 526h2M190 526h1M193 526h1M133 527h1M135 527h1M142 527h1M145 527h1M149 527h1M170 527h4M175 527h10M186 527h4M191 527h2M194 527h1M153 528h1M158 528h2M163 528h1M166 528h3M170 528h2M173 528h10M184 528h1M186 528h4M191 528h1M118 529h1M123 529h1M125 529h1M142 529h1M146 529h1M150 529h1M155 529h1M169 529h6M176 529h3M180 529h7M189 529h1M126 530h1M133 530h1M145 530h2M161 530h1M163 530h1M167 530h2M170 530h1M173 530h3M177 530h2M180 530h5M187 530h1M191 530h2M164 531h1M167 531h2M170 531h2M173 531h3M177 531h1M179 531h2M182 531h4M188 531h3M131 532h2M140 532h1M153 532h1M164 532h1M166 532h1M168 532h1M173 532h5M179 532h2M182 532h4M187 532h1M189 532h2M117 533h1M130 533h1M135 533h1M142 533h1M148 533h1M166 533h1M171 533h1M175 533h1M177 533h5M183 533h1M186 533h1M188 533h2M191 533h1M138 534h1M145 534h1M162 534h1M168 534h1M170 534h1M174 534h8M183 534h3M187 534h1M133 535h1M156 535h1M164 535h1M170 535h4M177 535h1M179 535h1M182 535h4M187 535h2M193 535h1M135 536h2M145 536h1M172 536h1M174 536h1M177 536h3M181 536h1M183 536h1M188 536h1M123 537h1M168 537h1M172 537h1M174 537h1M178 537h1M185 537h1M190 537h1M169 538h1M173 538h2M176 538h1M180 538h4M193 538h1M148 539h1M180 539h1M187 539h1M122 540h1M144 540h1M179 540h1M184 540h1M186 540h1M188 540h1M174 541h1M177 541h1M173 542h1M183 544h1M177 545h1M166 546h1M169 546h1M160 549h1M86 579h1"/>
<path class="ax" d="M53.55 455.25H216.2V588.4H53.55ZM160.4 455.25V588.4M53.55 504.1H216.2M53.75 588.4v4.6M53.55 588h-4.6M65.86 588.4v2.8M53.55 578.08h-2.8M72.95 588.4v2.8M53.55 572.27h-2.8M77.98 588.4v2.8M53.55 568.15h-2.8M81.87 588.4v2.8M53.55 564.96h-2.8M85.06 588.4v2.8M53.55 562.35h-2.8M87.75 588.4v2.8M53.55 560.14h-2.8M90.09 588.4v2.8M53.55 558.23h-2.8M92.15 588.4v2.8M53.55 556.55h-2.8M93.99 588.4v4.6M53.55 555.04h-4.6M106.1 588.4v2.8M53.55 545.11h-2.8M113.19 588.4v2.8M53.55 539.31h-2.8M118.21 588.4v2.8M53.55 535.19h-2.8M122.11 588.4v2.8M53.55 532h-2.8M125.3 588.4v2.8M53.55 529.39h-2.8M127.99 588.4v2.8M53.55 527.18h-2.8M130.33 588.4v2.8M53.55 525.27h-2.8M132.38 588.4v2.8M53.55 523.58h-2.8M134.22 588.4v4.6M53.55 522.08h-4.6M146.34 588.4v2.8M53.55 512.15h-2.8M153.42 588.4v2.8M53.55 506.35h-2.8M158.45 588.4v2.8M53.55 502.23h-2.8M162.35 588.4v2.8M53.55 499.04h-2.8M165.54 588.4v2.8M53.55 496.43h-2.8M168.23 588.4v2.8M53.55 494.22h-2.8M170.56 588.4v2.8M53.55 492.31h-2.8M172.62 588.4v2.8M53.55 490.62h-2.8M174.46 588.4v4.6M53.55 489.11h-4.6M186.58 588.4v2.8M53.55 479.19h-2.8M193.66 588.4v2.8M53.55 473.39h-2.8M198.69 588.4v2.8M53.55 469.27h-2.8M202.59 588.4v2.8M53.55 466.07h-2.8M205.77 588.4v2.8M53.55 463.46h-2.8M208.47 588.4v2.8M53.55 461.26h-2.8M210.8 588.4v2.8M53.55 459.34h-2.8M212.86 588.4v2.8M53.55 457.66h-2.8M214.7 588.4v4.6M53.55 456.15h-4.6"/>
<text class="tk" transform="translate(47.25 603.5) scale(.88 1)">10<tspan dx="1" dy="-4.8">0</tspan></text>
<text class="tk ty" transform="translate(44.95 596) rotate(-90)">10<tspan dx="1.1" dy="-5.2">0</tspan></text>
<text class="tk" transform="translate(87.49 603.5) scale(.88 1)">10<tspan dx="1" dy="-4.8">1</tspan></text>
<text class="tk ty" transform="translate(44.95 563.04) rotate(-90)">10<tspan dx="1.1" dy="-5.2">1</tspan></text>
<text class="tk" transform="translate(127.72 603.5) scale(.88 1)">10<tspan dx="1" dy="-4.8">2</tspan></text>
<text class="tk ty" transform="translate(44.95 530.08) rotate(-90)">10<tspan dx="1.1" dy="-5.2">2</tspan></text>
<text class="tk" transform="translate(167.96 603.5) scale(.88 1)">10<tspan dx="1" dy="-4.8">3</tspan></text>
<text class="tk ty" transform="translate(44.95 497.11) rotate(-90)">10<tspan dx="1.1" dy="-5.2">3</tspan></text>
<text class="tk" transform="translate(208.2 603.5) scale(.88 1)">10<tspan dx="1" dy="-4.8">4</tspan></text>
<text class="tk ty" transform="translate(44.95 464.15) rotate(-90)">10<tspan dx="1.1" dy="-5.2">4</tspan></text>
<text class="q" transform="translate(68.5 474.5) scale(.95 1)">80.9%</text>
<text class="q" transform="translate(182.5 474.5) scale(.95 1)">4.3%</text>
<text class="q" transform="translate(70 569.5) scale(.95 1)">3.2%</text>
<text class="q" transform="translate(177.5 569.5) scale(.95 1)">11.6%</text>
<text class="yt" text-anchor="middle" transform="translate(21.4 530.5) rotate(-90)">DiOC<tspan class="sb" dy="2.6">6</tspan><tspan dy="-2.6">(3)</tspan></text>
</g>
<g>
<path class="dots" filter="url(#soft)" transform="translate(0 .5)" d="M400 457h1M425 457h1M402 458h1M405 458h2M394 459h1M396 459h4M384 460h1M391 460h1M397 460h1M400 460h1M418 460h1M383 461h1M386 461h1M390 461h2M396 461h1M400 461h2M404 461h1M408 461h1M411 461h1M366 462h1M390 462h2M394 462h2M397 462h2M400 462h1M405 462h1M382 463h1M385 463h1M388 463h5M395 463h2M399 463h2M402 463h1M404 463h2M407 463h1M415 463h1M361 464h1M379 464h1M384 464h3M388 464h1M390 464h19M410 464h1M430 464h1M380 465h1M383 465h7M391 465h18M410 465h1M412 465h1M364 466h1M378 466h2M384 466h25M410 466h1M412 466h2M419 466h1M375 467h2M382 467h29M428 467h1M372 468h1M381 468h30M412 468h2M424 468h1M374 469h1M377 469h35M413 469h1M415 469h1M369 470h1M377 470h36M415 470h1M373 471h1M375 471h1M377 471h36M414 471h2M369 472h1M375 472h38M414 472h2M417 472h1M348 473h1M371 473h1M373 473h42M417 473h1M420 473h1M422 473h1M431 473h1M345 474h1M347 474h1M369 474h1M373 474h41M420 474h1M422 474h1M424 474h1M352 475h1M369 475h1M371 475h1M374 475h38M413 475h1M415 475h2M418 475h1M420 475h1M426 475h1M352 476h1M373 476h44M418 476h1M423 476h1M350 477h1M374 477h40M415 477h3M419 477h3M349 478h1M352 478h1M370 478h1M373 478h39M413 478h1M415 478h7M356 479h1M361 479h1M363 479h1M366 479h1M369 479h2M372 479h42M415 479h1M418 479h1M421 479h2M427 479h1M355 480h1M360 480h1M368 480h1M370 480h1M372 480h43M416 480h1M418 480h3M424 480h1M427 480h2M342 481h1M363 481h1M367 481h1M371 481h2M374 481h38M413 481h4M419 481h1M421 481h1M429 481h1M431 481h1M349 482h1M358 482h1M369 482h2M373 482h36M410 482h4M415 482h1M418 482h2M424 482h1M345 483h1M348 483h1M352 483h1M354 483h1M365 483h2M369 483h3M373 483h2M376 483h34M411 483h1M414 483h2M417 483h3M421 483h1M429 483h1M435 483h1M350 484h1M364 484h1M366 484h1M373 484h3M377 484h31M409 484h4M416 484h1M420 484h1M422 484h1M424 484h2M429 484h1M348 485h1M355 485h2M366 485h1M377 485h3M382 485h27M410 485h1M413 485h1M417 485h1M419 485h3M344 486h2M361 486h1M368 486h1M376 486h1M380 486h2M383 486h3M387 486h14M402 486h5M408 486h2M414 486h1M416 486h1M423 486h2M426 486h1M431 486h1M352 487h2M363 487h1M369 487h3M376 487h1M378 487h2M381 487h12M395 487h3M399 487h4M410 487h1M417 487h1M421 487h1M341 488h1M356 488h1M359 488h1M365 488h1M368 488h1M375 488h3M381 488h1M383 488h2M386 488h1M389 488h10M401 488h3M405 488h1M408 488h1M414 488h1M420 488h1M425 488h2M428 488h1M343 489h3M351 489h1M355 489h1M359 489h1M370 489h2M373 489h1M376 489h1M380 489h1M383 489h1M385 489h1M387 489h1M389 489h1M394 489h1M396 489h4M403 489h1M405 489h1M408 489h1M410 489h1M421 489h1M426 489h1M431 489h1M351 490h3M357 490h1M360 490h1M365 490h1M369 490h1M373 490h1M383 490h2M386 490h1M393 490h1M395 490h1M398 490h2M403 490h1M406 490h3M412 490h1M415 490h1M356 491h1M364 491h1M375 491h1M377 491h1M383 491h1M386 491h2M389 491h1M394 491h1M396 491h1M399 491h2M402 491h1M413 491h3M418 491h1M421 491h1M430 491h1M432 491h1M352 492h1M364 492h1M368 492h2M377 492h2M382 492h1M385 492h1M387 492h3M391 492h1M397 492h2M405 492h1M412 492h2M417 492h1M422 492h1M342 493h1M366 493h1M371 493h2M384 493h2M391 493h1M393 493h1M395 493h1M401 493h2M405 493h1M417 493h1M348 494h1M366 494h1M379 494h1M387 494h1M397 494h1M401 494h1M406 494h1M426 494h1M367 495h1M376 495h2M379 495h1M381 495h1M387 495h2M390 495h1M397 495h1M411 495h1M413 495h1M359 496h1M369 496h1M379 496h2M393 496h1M395 496h1M397 496h1M399 496h1M412 496h1M415 496h1M366 497h1M385 497h1M393 497h1M404 497h1M413 497h1M416 497h1M425 497h1M351 498h1M359 498h1M371 498h1M389 498h2M393 498h2M404 498h1M409 498h1M411 498h1M401 499h1M358 500h1M379 500h1M382 500h1M395 500h1M418 500h1M357 501h1M386 501h1M368 502h1M404 502h1M351 503h1M381 503h1M384 503h1M408 503h1M419 503h1M338 504h1M362 504h1M366 504h1M389 504h1M401 504h1M407 504h1M385 505h1M355 506h1M365 506h1M373 506h1M379 506h2M388 506h1M397 506h1M409 506h1M349 507h1M374 507h1M388 507h2M393 507h2M398 507h1M349 508h1M352 508h1M366 508h1M375 508h1M378 508h3M384 508h2M387 508h1M389 508h1M392 508h2M397 508h1M428 508h1M349 509h1M369 509h1M372 509h3M379 509h1M415 509h1M438 509h1M350 510h1M363 510h1M371 510h1M373 510h2M383 510h1M387 510h1M391 510h2M409 510h1M432 510h1M434 510h1M354 511h1M367 511h1M370 511h1M372 511h1M380 511h3M391 511h2M394 511h2M399 511h1M402 511h2M406 511h1M418 511h1M420 511h1M422 511h1M426 511h1M434 511h2M451 511h1M330 512h1M344 512h1M365 512h1M373 512h1M381 512h1M384 512h1M386 512h1M388 512h2M391 512h2M399 512h1M404 512h2M422 512h2M425 512h1M427 512h1M432 512h1M435 512h1M438 512h1M351 513h2M369 513h1M376 513h2M379 513h2M385 513h1M391 513h1M393 513h1M395 513h3M401 513h1M403 513h1M412 513h1M423 513h1M427 513h1M429 513h1M436 513h1M439 513h1M347 514h1M351 514h1M356 514h2M364 514h1M370 514h1M380 514h3M387 514h1M391 514h1M394 514h2M400 514h2M405 514h1M412 514h1M414 514h1M416 514h1M419 514h2M424 514h2M429 514h1M432 514h5M439 514h1M442 514h1M447 514h1M369 515h1M372 515h1M375 515h2M378 515h1M380 515h1M382 515h1M385 515h2M388 515h1M391 515h1M394 515h1M399 515h1M401 515h2M405 515h1M407 515h1M412 515h1M417 515h1M421 515h1M423 515h1M426 515h1M429 515h1M431 515h1M433 515h2M436 515h1M441 515h1M343 516h1M367 516h2M371 516h1M373 516h1M375 516h1M381 516h1M387 516h1M390 516h1M393 516h1M395 516h1M399 516h2M403 516h2M407 516h1M409 516h1M413 516h1M417 516h1M422 516h1M424 516h8M434 516h3M446 516h1M339 517h1M366 517h2M370 517h1M380 517h1M383 517h1M385 517h1M390 517h2M394 517h2M397 517h1M399 517h1M403 517h1M406 517h1M411 517h1M417 517h2M420 517h1M422 517h3M426 517h8M435 517h3M439 517h5M449 517h1M358 518h1M375 518h1M379 518h1M381 518h2M387 518h1M391 518h1M393 518h1M395 518h3M401 518h1M405 518h1M407 518h1M410 518h1M416 518h1M420 518h3M424 518h12M437 518h1M349 519h1M360 519h1M371 519h1M375 519h1M377 519h1M381 519h1M390 519h1M395 519h1M397 519h1M399 519h1M401 519h2M407 519h1M411 519h1M419 519h2M422 519h15M440 519h1M444 519h1M448 519h1M366 520h2M371 520h1M374 520h2M386 520h1M389 520h1M397 520h2M405 520h1M407 520h2M410 520h1M412 520h1M414 520h1M417 520h2M420 520h1M422 520h17M445 520h1M449 520h1M370 521h1M374 521h1M382 521h1M390 521h2M399 521h2M412 521h1M414 521h2M420 521h20M442 521h1M449 521h1M358 522h1M390 522h1M394 522h3M403 522h1M409 522h1M415 522h1M418 522h22M380 523h1M387 523h1M391 523h1M402 523h1M405 523h1M409 523h1M412 523h3M417 523h1M419 523h1M421 523h4M426 523h13M440 523h1M443 523h1M446 523h1M448 523h1M375 524h2M378 524h1M380 524h1M387 524h1M402 524h1M406 524h1M410 524h1M412 524h2M415 524h1M420 524h21M442 524h1M444 524h1M453 524h1M361 525h1M393 525h1M397 525h1M408 525h1M410 525h1M414 525h2M417 525h1M421 525h18M440 525h1M442 525h1M399 526h1M404 526h1M415 526h1M419 526h2M422 526h1M424 526h17M442 526h1M444 526h1M391 527h1M395 527h1M403 527h1M411 527h1M418 527h1M420 527h21M443 527h1M445 527h1M382 528h1M393 528h1M405 528h1M420 528h2M423 528h19M443 528h1M455 528h1M399 529h1M406 529h1M410 529h1M416 529h1M421 529h1M423 529h17M414 530h2M421 530h2M424 530h1M426 530h2M429 530h11M441 530h1M443 530h1M447 530h1M449 530h1M386 531h1M406 531h1M415 531h1M419 531h1M421 531h1M424 531h1M426 531h3M432 531h2M438 531h1M440 531h1M446 531h1M422 532h1M425 532h1M427 532h2M430 532h4M436 532h2M439 532h1M448 532h1M417 533h1M424 533h1M426 533h2M430 533h2M434 533h3M438 533h2M443 533h1M421 534h1M426 534h3M436 534h4M447 534h2M428 535h1M430 535h1M434 535h3M439 535h1M448 535h1M421 536h1M428 536h1M432 536h1M434 536h1M437 536h1M426 537h1M428 537h2M434 537h1M437 537h1M413 538h1M425 538h1M432 538h2M444 538h1M431 540h1M433 542h1M419 544h1M317 577h1"/>
<path class="ax" d="M312.6 455.5H475.3V589H312.6ZM410.3 455.5V589M312.6 503H475.3M312.8 589v4.6M312.6 588.6h-4.6M324.92 589v2.8M312.6 578.65h-2.8M332 589v2.8M312.6 572.83h-2.8M337.03 589v2.8M312.6 568.7h-2.8M340.93 589v2.8M312.6 565.5h-2.8M344.12 589v2.8M312.6 562.88h-2.8M346.82 589v2.8M312.6 560.67h-2.8M349.15 589v2.8M312.6 558.75h-2.8M351.21 589v2.8M312.6 557.06h-2.8M353.05 589v4.6M312.6 555.55h-4.6M365.17 589v2.8M312.6 545.6h-2.8M372.25 589v2.8M312.6 539.78h-2.8M377.28 589v2.8M312.6 535.65h-2.8M381.18 589v2.8M312.6 532.45h-2.8M384.37 589v2.8M312.6 529.83h-2.8M387.07 589v2.8M312.6 527.62h-2.8M389.4 589v2.8M312.6 525.7h-2.8M391.46 589v2.8M312.6 524.01h-2.8M393.3 589v4.6M312.6 522.5h-4.6M405.42 589v2.8M312.6 512.55h-2.8M412.5 589v2.8M312.6 506.73h-2.8M417.53 589v2.8M312.6 502.6h-2.8M421.43 589v2.8M312.6 499.4h-2.8M424.62 589v2.8M312.6 496.78h-2.8M427.32 589v2.8M312.6 494.57h-2.8M429.65 589v2.8M312.6 492.65h-2.8M431.71 589v2.8M312.6 490.96h-2.8M433.55 589v4.6M312.6 489.45h-4.6M445.67 589v2.8M312.6 479.5h-2.8M452.75 589v2.8M312.6 473.68h-2.8M457.78 589v2.8M312.6 469.55h-2.8M461.68 589v2.8M312.6 466.35h-2.8M464.87 589v2.8M312.6 463.73h-2.8M467.57 589v2.8M312.6 461.52h-2.8M469.9 589v2.8M312.6 459.6h-2.8M471.96 589v2.8M312.6 457.91h-2.8M473.8 589v4.6M312.6 456.4h-4.6"/>
<text class="tk" transform="translate(306.3 604.1) scale(.88 1)">10<tspan dx="1" dy="-4.8">0</tspan></text>
<text class="tk ty" transform="translate(304 596.6) rotate(-90)">10<tspan dx="1.1" dy="-5.2">0</tspan></text>
<text class="tk" transform="translate(346.55 604.1) scale(.88 1)">10<tspan dx="1" dy="-4.8">1</tspan></text>
<text class="tk ty" transform="translate(304 563.55) rotate(-90)">10<tspan dx="1.1" dy="-5.2">1</tspan></text>
<text class="tk" transform="translate(386.8 604.1) scale(.88 1)">10<tspan dx="1" dy="-4.8">2</tspan></text>
<text class="tk ty" transform="translate(304 530.5) rotate(-90)">10<tspan dx="1.1" dy="-5.2">2</tspan></text>
<text class="tk" transform="translate(427.05 604.1) scale(.88 1)">10<tspan dx="1" dy="-4.8">3</tspan></text>
<text class="tk ty" transform="translate(304 497.45) rotate(-90)">10<tspan dx="1.1" dy="-5.2">3</tspan></text>
<text class="tk" transform="translate(467.3 604.1) scale(.88 1)">10<tspan dx="1" dy="-4.8">4</tspan></text>
<text class="tk ty" transform="translate(304 464.4) rotate(-90)">10<tspan dx="1.1" dy="-5.2">4</tspan></text>
<text class="q" transform="translate(325.8 475.5) scale(.95 1)">81.6%</text>
<text class="q" transform="translate(437.5 475.5) scale(.95 1)">2.9%</text>
<text class="q" transform="translate(330 570.3) scale(.95 1)">3.9%</text>
<text class="q" transform="translate(431.4 570.3) scale(.95 1)">11.6%</text>
<text class="yt" text-anchor="middle" transform="translate(284.2 522.7) rotate(-90)">NAO</text>
</g>
<text class="b" font-size="14.6" x="500.4" y="131.5">0 h</text>
<text class="b" font-size="14.6" x="499.6" y="336.8">8 h</text>
<text class="b" font-size="14.6" x="492" y="531.7">24 h</text>
<path d="M53.3 638.05H476.6" stroke="#0a0a0a" stroke-width="2.2" fill="none"/>
<text class="b" font-size="14.2" x="227.4" y="669.1">HE (ROS)</text>
</svg>
</body>
</html>
